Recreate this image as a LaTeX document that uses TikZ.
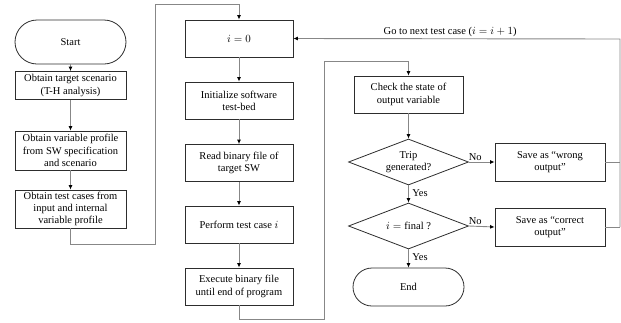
\documentclass[tikz,border=0pt]{standalone}
\usepackage{fontspec}
\setmainfont{Liberation Serif}
\usetikzlibrary{shapes.geometric,arrows.meta}
\definecolor{edgegray}{RGB}{135,135,135}
\definecolor{boxline}{RGB}{45,45,45}
\begin{document}
\begin{tikzpicture}[x=1pt,y=-1pt,
  font=\fontsize{10.5}{12.2}\selectfont,
  base/.style={draw=boxline, line width=0.8pt, inner sep=0pt, align=center},
  procbox/.style={base, rectangle, minimum width=108pt, minimum height=37pt},
  leftbox/.style={base, rectangle, minimum width=111pt},
  termbox/.style={base, rectangle, rounded corners=#1, minimum height=2*#1},
  decbox/.style={base, diamond, aspect=2.6, minimum width=120pt, minimum height=46pt},
  flow/.style={draw=edgegray, line width=0.9pt, -{Latex[length=4.5pt,width=4pt,black]}},
  link/.style={draw=edgegray, line width=0.9pt},
  lbl/.style={inner sep=1pt}
]
\useasboundingbox (0,0) rectangle (621,322);

% left column: preparation steps
\node[termbox=22pt, minimum width=111pt] (start) at (70.5,42) {Start};
\node[leftbox, minimum height=28pt] (scen) at (70.5,85.5) {Obtain target scenario\\(T-H analysis)};
\node[leftbox, minimum height=39pt] (prof) at (70.5,150.5) {Obtain variable profile\\from SW specification\\and scenario};
\node[leftbox, minimum height=38pt] (cases) at (70.5,209) {Obtain test cases from\\input and internal\\variable profile};

% middle column: test execution
\node[procbox] (init0) at (239,38.5) {$i = 0$};
\node[procbox] (bed) at (239,100.5) {Initialize software\\test-bed};
\node[procbox] (read) at (239,163) {Read binary file of\\target SW};
\node[procbox] (perf) at (239,224.5) {Perform test case $i$};
\node[procbox] (exec) at (239,286.5) {Execute binary file\\until end of program};

% right column: evaluation
\node[procbox, minimum width=109pt] (check) at (408.5,94.5) {Check the state of\\output variable};
\node[decbox] (trip) at (408.5,162) {Trip\\generated?};
\node[decbox] (final) at (408.5,226) {$i = \mathrm{final}$ ?};
\node[termbox=19pt, minimum width=111pt] (stop) at (408.5,287) {End};
\node[procbox, minimum width=110pt, minimum height=38pt] (wrong) at (550,162) {Save as “wrong\\output”};
\node[procbox, minimum width=110pt, minimum height=38pt] (right) at (550,227) {Save as “correct\\output”};

% routing points
\coordinate (c1) at (70.5,244);
\coordinate (c2) at (155,244);
\coordinate (c3) at (155,4);
\coordinate (c4) at (239,4);
\coordinate (d1) at (239,319);
\coordinate (d2) at (324,319);
\coordinate (d3) at (324,61);
\coordinate (d4) at (408.5,61);
\coordinate (e1) at (620,162);
\coordinate (e2) at (620,227);
\coordinate (e3) at (620,39);

% straight flows
\draw[flow] (start) -- (scen);
\draw[flow] (scen) -- (prof);
\draw[flow] (prof) -- (cases);
\draw[flow] (init0) -- (bed);
\draw[flow] (bed) -- (read);
\draw[flow] (read) -- (perf);
\draw[flow] (perf) -- (exec);
\draw[flow] (check) -- (trip);
\draw[flow] (trip.east) -- node[lbl, above, pos=0.25] {No} (wrong.west);
\draw[flow] (final.east) -- node[lbl, above, pos=0.25] {No} (right.west);
\draw[flow] (trip.south) -- node[lbl, right, pos=0.45, xshift=2.5pt] {Yes} (final.north);
\draw[flow] (final.south) -- node[lbl, right, pos=0.45, xshift=2.5pt] {Yes} (stop.north);

% column-to-column flows
\draw[flow] (cases.south) -- (c1) -- (c2) -- (c3) -- (c4) -- (init0.north);
\draw[flow] (exec.south) -- (d1) -- (d2) -- (d3) -- (d4) -- (check.north);

% loop back to the next test case
\draw[link] (wrong.east) -- (e1);
\draw[link] (right.east) -- (e2);
\draw[flow] (e2) -- (e3) -- node[lbl, above, pos=0.52, yshift=1pt] {Go to next test case ($i = i + 1$)} (init0.east);
\end{tikzpicture}
\end{document}
